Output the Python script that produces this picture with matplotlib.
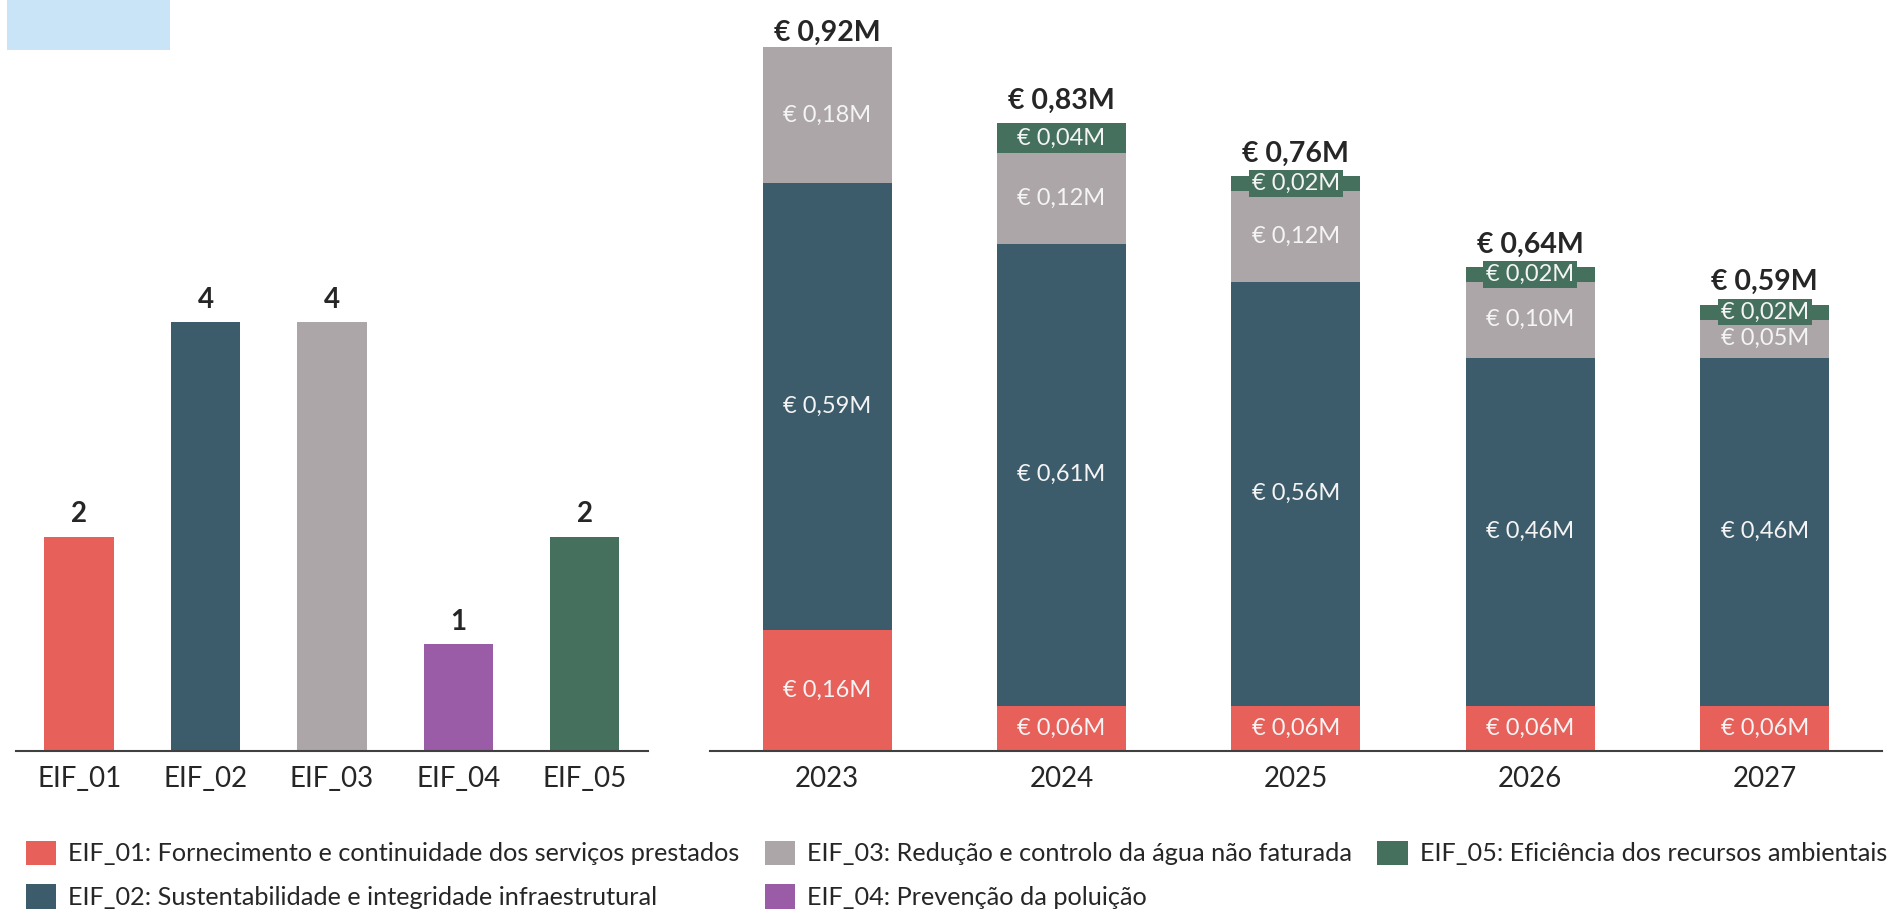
import matplotlib.pyplot as plt
from matplotlib.patches import Rectangle, Patch

plt.rcParams['font.family'] = ['Lato', 'DejaVu Sans']

colors = ['#E8605A', '#3D5C6B', '#ADA6A8', '#9A5CA6', '#46705E']

# left chart: number of items per objective
codes = ['EIF_01', 'EIF_02', 'EIF_03', 'EIF_04', 'EIF_05']
counts = [2, 4, 4, 1, 2]

# right chart: investment per year (M EUR), stacked by objective
years = ['2023', '2024', '2025', '2026', '2027']
eif01 = [0.16, 0.06, 0.06, 0.06, 0.06]
eif02 = [0.59, 0.61, 0.56, 0.46, 0.46]
eif03 = [0.18, 0.12, 0.12, 0.10, 0.05]
eif04 = [0.0, 0.0, 0.0, 0.0, 0.0]
eif05 = [0.0, 0.04, 0.02, 0.02, 0.02]
totals = [0.92, 0.83, 0.76, 0.64, 0.59]

legend_labels = [
    'EIF_01: Fornecimento e continuidade dos serviços prestados',
    'EIF_02: Sustentabilidade e integridade infraestrutural',
    'EIF_03: Redução e controlo da água não faturada',
    'EIF_04: Prevenção da poluição',
    'EIF_05: Eficiência dos recursos ambientais',
]


def fmt(v):
    return '€ ' + f'{v:.2f}'.replace('.', ',') + 'M'


fig = plt.figure(figsize=(18.88, 9.13), dpi=100)
ax1 = fig.add_axes([0.00847, 0.1774, 0.3347, 0.8007])
ax2 = fig.add_axes([0.376, 0.1774, 0.6208, 0.8007])

# light blue block top-left
fig.patches.append(Rectangle((0.0037, 0.945), 0.0863, 0.055, transform=fig.transFigure,
                             facecolor='#C8E4F6', edgecolor='none'))

for ax in (ax1, ax2):
    for s in ['top', 'right', 'left']:
        ax.spines[s].set_visible(False)
    ax.spines['bottom'].set_color('#404040')
    ax.spines['bottom'].set_linewidth(1.5)
    ax.set_yticks([])
    ax.tick_params(axis='x', length=0, pad=11, labelsize=20, labelcolor='#262626')
    ax.set_xlim(-0.5, 4.5)

# left bars
bars = ax1.bar(range(5), counts, width=0.55, color=colors)
ax1.set_xticks(range(5))
ax1.set_xticklabels(codes)
ax1.set_ylim(0, 6.82)
for b, c in zip(bars, counts):
    ax1.annotate(str(c), (b.get_x() + b.get_width() / 2, c), xytext=(0, 16),
                 textcoords='offset points', ha='center', va='center',
                 fontsize=20, fontweight='bold', color='#262626')

# right stacked bars
series = [eif01, eif02, eif03, eif04, eif05]
x = range(5)
bottom = [0.0] * 5
for i, vals in enumerate(series):
    ax2.bar(x, vals, width=0.55, bottom=bottom, color=colors[i])
    for j, v in enumerate(vals):
        if v > 0:
            yc = bottom[j] + v / 2
            kw = {}
            if i == 4:
                kw['bbox'] = dict(boxstyle='square,pad=0.12', facecolor=colors[4], edgecolor='none')
            ax2.text(j, yc, fmt(v), ha='center', va='center', fontsize=17,
                     color='#F4F4F4', **kw)
    bottom = [b + v for b, v in zip(bottom, vals)]

for j, t in enumerate(totals):
    ax2.annotate(fmt(t), (j, t), xytext=(0, 16), textcoords='offset points',
                 ha='center', va='center', fontsize=20.5, fontweight='bold',
                 color='#262626')

ax2.set_xticks(list(x))
ax2.set_xticklabels(years)
ax2.set_ylim(0, 0.966)

handles = [Patch(facecolor=c) for c in colors]
fig.legend(handles, legend_labels, ncol=3, loc='lower left',
           bbox_to_anchor=(0.0138, 0.0044), frameon=False, fontsize=18.2,
           handlelength=1.2, handleheight=1.1, handletextpad=0.47,
           columnspacing=1.0, labelspacing=0.75, borderpad=0, borderaxespad=0,
           labelcolor='#262626')

fig.savefig('out.png', dpi=100)
